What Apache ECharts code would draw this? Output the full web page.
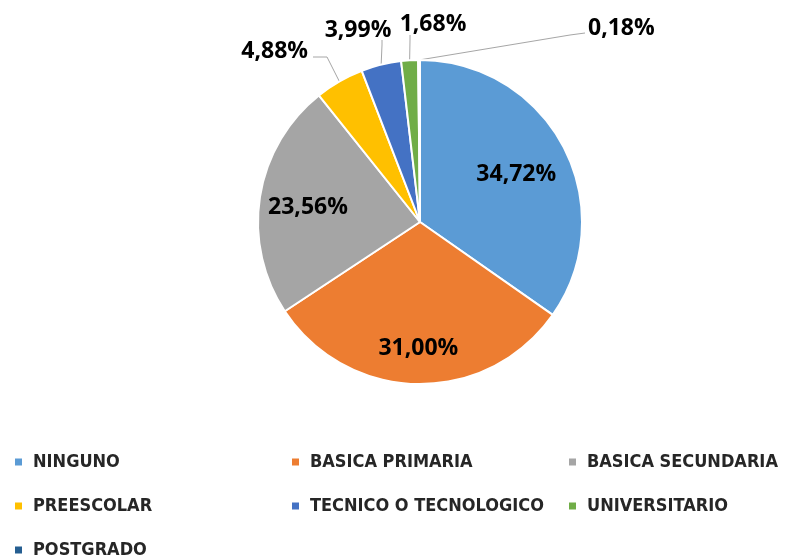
<!DOCTYPE html>
<html>
<head>
<meta charset="utf-8">
<script src="https://cdn.jsdelivr.net/npm/echarts@6/dist/echarts.min.js"></script>
<style>html,body{margin:0;padding:0;background:#fff;}#chart{width:791px;height:556px;}</style>
</head>
<body>
<div id="chart"></div>
<script>
const categories = ['NINGUNO', 'BASICA PRIMARIA', 'BASICA SECUNDARIA', 'PREESCOLAR', 'TECNICO O TECNOLOGICO', 'UNIVERSITARIO', 'POSTGRADO'];
const values = [34.72, 31.00, 23.56, 4.88, 3.99, 1.68, 0.18];
const colors = ['#5B9BD5', '#ED7D31', '#A5A5A5', '#FFC000', '#4472C4', '#70AD47', '#255E91'];

// layout / style settings
const CX = 420, CY = 222, R = 162;
const insideIdx = [0, 1, 2];
const insideFactor = { 0: 0.67, 1: 0.76, 2: 0.70 };
const insideDy = 3;
const outsideLayout = {
  3: { x: 308, y: 51, align: 'right', pts: [[327, 57], [313, 57]] },
  4: { x: 358, y: 30, align: 'center', pts: [[382, 45], [382, 40]] },
  5: { x: 433, y: 24, align: 'center', pts: [[410, 40], [410, 35]] },
  6: { x: 588, y: 28, align: 'left', pts: [[570, 35], [585, 33]] }
};

const total = values.reduce((a, b) => a + b, 0);
function midAngle(i) {
  let c = 0;
  for (let k = 0; k < i; k++) c += values[k];
  c += values[i] / 2;
  return 2 * Math.PI * c / total;
}
function polar(theta, r) {
  return [CX + r * Math.sin(theta), CY - r * Math.cos(theta)];
}
const fmt = v => v.toFixed(2).replace('.', ',') + '%';

const data = categories.map((name, i) => {
  const inside = insideIdx.indexOf(i) >= 0;
  return {
    name: name,
    value: values[i],
    label: { position: inside ? 'inside' : 'outside' },
    labelLine: { show: !inside }
  };
});

const chart = echarts.init(document.getElementById('chart'), null, { renderer: 'canvas' });
chart.setOption({
  animation: false,
  backgroundColor: '#ffffff',
  color: colors,
  legend: {
    left: 13,
    top: 447,
    width: 840,
    padding: 0,
    orient: 'horizontal',
    icon: 'rect',
    itemWidth: 9,
    itemHeight: 9,
    itemGap: 14,
    textStyle: {
      fontFamily: "'Liberation Sans Narrow', 'DejaVu Sans Condensed', sans-serif",
      fontWeight: 'bold',
      fontSize: 18,
      color: '#262626',
      width: 243,
      lineHeight: 30,
      padding: [0, 0, 0, 5]
    },
    data: categories
  },
  series: [{
    type: 'pie',
    center: [CX, CY],
    radius: R,
    startAngle: 90,
    clockwise: true,
    avoidLabelOverlap: false,
    data: data,
    itemStyle: { borderColor: '#ffffff', borderWidth: 2 },
    label: {
      formatter: p => fmt(p.value),
      fontFamily: "'Open Sans', 'Liberation Sans', sans-serif",
      fontWeight: 'bold',
      fontSize: 23,
      color: '#000000'
    },
    labelLine: {
      lineStyle: { color: '#a6a6a6', width: 1 },
      length: 15,
      length2: 10
    },
    labelLayout: function (params) {
      const i = params.dataIndex;
      const th = midAngle(i);
      if (insideFactor[i] !== undefined) {
        const p = polar(th, R * insideFactor[i]);
        return { x: p[0], y: p[1] + insideDy, align: 'center', verticalAlign: 'middle' };
      }
      const o = outsideLayout[i];
      if (!o) return {};
      const start = polar(th, R);
      return {
        x: o.x, y: o.y, align: o.align, verticalAlign: 'middle',
        labelLinePoints: [start, o.pts[0], o.pts[1]]
      };
    }
  }]
});
</script>
</body>
</html>
